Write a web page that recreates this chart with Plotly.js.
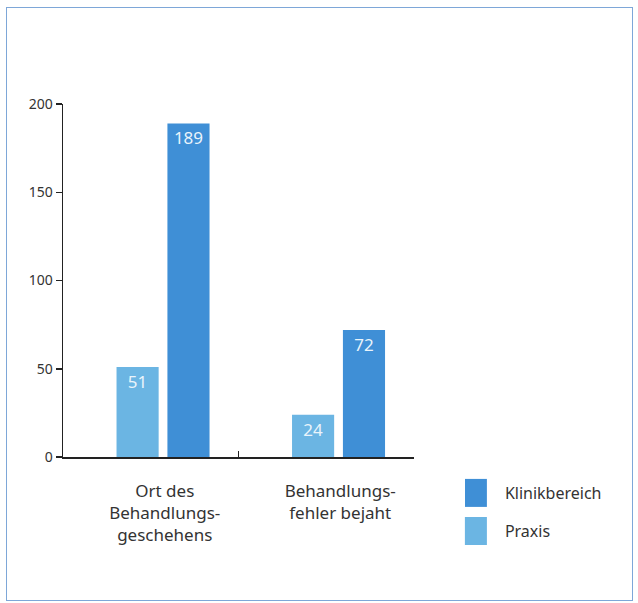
<!DOCTYPE html>
<html>
<head>
<meta charset="utf-8">
<script src="https://cdn.plot.ly/plotly-3.0.1.min.js"></script>
<style>
  html, body { margin: 0; padding: 0; background: #fff; }
  #wrap { position: relative; width: 638px; height: 603px; }
  #chart { position: absolute; left: 0; top: 0; width: 638px; height: 603px; }
  #frame { position: absolute; left: 6px; top: 7px; width: 625px; height: 592px;
           border: 1.5px solid #7ea7d8; pointer-events: none; }
</style>
</head>
<body>
<div id="wrap">
  <div id="chart"></div>
  <div id="frame"></div>
</div>
<script>
const categories = ["Ort des<br>Behandlungs-<br>geschehens", "Behandlungs-<br>fehler bejaht"];
const praxisValues = [51, 24];
const klinikValues = [189, 72];
const seriesNames = ["Klinikbereich", "Praxis"];
const yTicks = [0, 50, 100, 150, 200];

const FONT = '"Noto Sans", "Open Sans", sans-serif';

const praxis = {
  type: 'bar', name: seriesNames[1], x: categories, y: praxisValues,
  marker: { color: '#6bb5e3' },
  width: 0.24, offset: -0.195,
  text: praxisValues.map(String), textposition: 'inside', insidetextanchor: 'end',
  textangle: 0,
  textfont: { color: '#eaf4fb', size: 17, family: FONT },
  legend: 'legend2', hoverinfo: 'skip'
};
const klinik = {
  type: 'bar', name: seriesNames[0], x: categories, y: klinikValues,
  marker: { color: '#3f8fd6' },
  width: 0.24, offset: 0.095,
  text: klinikValues.map(String), textposition: 'inside', insidetextanchor: 'end',
  textangle: 0,
  textfont: { color: '#eaf4fb', size: 17, family: FONT },
  legend: 'legend', hoverinfo: 'skip'
};

const layout = {
  width: 638, height: 603,
  margin: { l: 63, r: 224, t: 104, b: 146 },
  paper_bgcolor: '#ffffff', plot_bgcolor: '#ffffff',
  font: { family: FONT, color: '#333333' },
  barmode: 'overlay',
  showlegend: true,
  xaxis: {
    type: 'category', range: [-0.5, 1.5],
    showline: true, linecolor: '#222', linewidth: 1.5,
    ticks: 'inside', ticklen: 6, tickcolor: '#222', tickwidth: 1.5,
    tickson: 'boundaries',
    tickfont: { size: 17, color: '#333', family: FONT },
    ticklabelshift: 14, ticklabelstandoff: 18,
    showgrid: false, zeroline: false, fixedrange: true
  },
  yaxis: {
    range: [0, 200], tickvals: yTicks,
    showline: true, linecolor: '#222', linewidth: 1.5,
    ticks: 'outside', ticklen: 6, tickcolor: '#222', tickwidth: 1.5,
    tickfont: { size: 14, color: '#333', family: FONT },
    showgrid: false, zeroline: false, fixedrange: true
  },
  legend: {
    x: 1.145, y: -0.102, xanchor: 'left', yanchor: 'middle',
    xref: 'paper', yref: 'paper',
    font: { size: 16, color: '#333', family: FONT },
    bgcolor: 'rgba(0,0,0,0)', itemclick: false, itemdoubleclick: false
  },
  legend2: {
    x: 1.145, y: -0.21, xanchor: 'left', yanchor: 'middle',
    xref: 'paper', yref: 'paper',
    font: { size: 16, color: '#333', family: FONT },
    bgcolor: 'rgba(0,0,0,0)', itemclick: false, itemdoubleclick: false
  }
};

Plotly.newPlot('chart', [praxis, klinik], layout, { displayModeBar: false, staticPlot: true })
  .then(function (gd) {
    // enlarge legend swatches to match the reference's large squares
    gd.querySelectorAll('.legendpoints path').forEach(function (p) {
      p.setAttribute('d', 'M2,14H-25V-14H2Z');
    });
  });
</script>
</body>
</html>
